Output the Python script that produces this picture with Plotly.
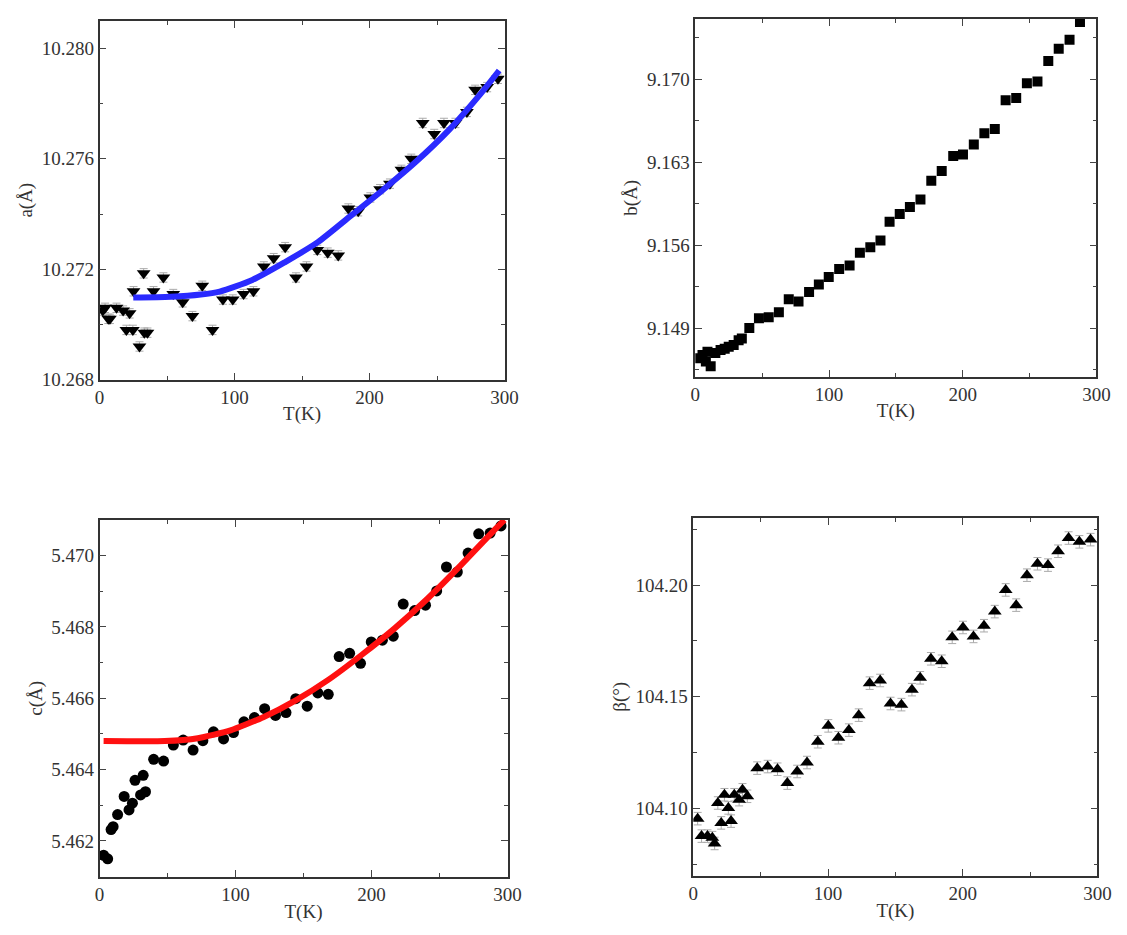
import plotly.graph_objects as go

# ---- panel a ----
T_a = [2.4, 4.1, 6.5, 7.7, 12.6, 17.5, 19.9, 22.3, 24.7, 25.2, 29.6, 32.7, 33.2, 35.5,
       40.0, 47.3, 54.6, 61.6, 68.8, 76.1, 83.7, 91.4, 98.7, 106.7, 114.0, 121.7, 129.0,
       137.5, 145.5, 153.3, 161.3, 169.0, 176.8, 184.3, 191.6, 200.6, 207.8, 215.1, 223.6,
       230.9, 239.4, 247.9, 255.1, 263.6, 272.1, 278.2, 287.1, 295.1]
a_val = [10.2705, 10.2706, 10.2702, 10.2702, 10.2706, 10.2705, 10.2698, 10.2704, 10.2698,
         10.2712, 10.2692, 10.27185, 10.2697, 10.2697,
         10.2712, 10.2717, 10.2711, 10.2708, 10.2703, 10.2714, 10.2698, 10.2709, 10.2709,
         10.2711, 10.2712, 10.2721, 10.2724, 10.2728, 10.2717, 10.2721, 10.2727, 10.2726,
         10.2725, 10.2742, 10.2741, 10.2746, 10.2749, 10.2751, 10.2756, 10.2760, 10.2773,
         10.2769, 10.2773, 10.2773, 10.2777, 10.2785, 10.2786, 10.2789]
a_err = [0.00017] * len(a_val)
T_afit = [25, 52.6, 75, 89, 113.2, 137.5, 161.7, 186, 210.3, 234.5, 258.7, 283, 296]
a_fit = [10.27097, 10.27100, 10.27108, 10.27119, 10.27161, 10.27226, 10.27298, 10.27393,
         10.27489, 10.2759, 10.27704, 10.2784, 10.2792]

# ---- panel b ----
T_b = [1.8, 5.4, 7.9, 9.1, 11.5, 15.0, 18.9, 22.0, 25.0, 28.7, 32.4, 34.8, 40.4, 47.6,
       54.9, 62.5, 69.9, 77.2, 85.1, 92.4, 99.8, 107.6, 115.4, 123.1, 130.9, 138.5, 145.3,
       152.9, 160.5, 168.4, 176.5, 184.3, 192.9, 200.2, 208.3, 216.2, 224.0, 232.1, 240.0,
       248.0, 255.9, 264.0, 271.8, 279.9, 287.7]
b_val = [9.14645, 9.14673, 9.14618, 9.1470, 9.14577, 9.14690, 9.14714, 9.14725, 9.14742,
         9.14756, 9.14797, 9.14811, 9.1490, 9.14983, 9.14991, 9.15033, 9.15143, 9.15124,
         9.15204, 9.15267, 9.15331, 9.15398, 9.15428, 9.15535, 9.15582, 9.15638, 9.15798,
         9.15862, 9.15922, 9.15986, 9.16143, 9.16226, 9.16353, 9.16364, 9.1645, 9.16544,
         9.1658, 9.16823, 9.16843, 9.16967, 9.16981, 9.17155, 9.17257, 9.17334, 9.17484]

# ---- panel c ----
T_c = [3.0, 6.0, 8.5, 10.0, 13.3, 18.1, 21.7, 24.2, 26.1, 30.2, 32.1, 33.8, 39.8, 47.1,
       54.3, 61.5, 68.8, 76.0, 83.8, 91.2, 98.5, 106.2, 113.9, 121.4, 129.4, 137.1, 144.3,
       152.7, 160.5, 168.2, 176.2, 183.9, 191.9, 199.8, 208.0, 216.0, 223.3, 231.7, 239.7,
       247.9, 255.1, 263.1, 271.0, 278.8, 287.2, 295.2]
c_val = [5.4616, 5.4615, 5.46232, 5.4624, 5.46274, 5.46325, 5.46287, 5.46306, 5.4637,
         5.46329, 5.46384, 5.46338, 5.46429, 5.46424, 5.46469, 5.46483, 5.46455, 5.46481,
         5.46506, 5.46486, 5.46504, 5.46534, 5.46546, 5.46571, 5.46552, 5.4656, 5.46599,
         5.46578, 5.46615, 5.46611, 5.46717, 5.46726, 5.46698, 5.46758, 5.46763, 5.46774,
         5.46864, 5.46846, 5.46861, 5.46901, 5.46968, 5.46954, 5.47007, 5.47061, 5.47063,
         5.47083]
T_cfit = [3, 48, 72.2, 96.3, 120.4, 144.6, 168.7, 192.9, 217, 241.1, 265.2, 289.4, 297.8]
c_fit = [5.46480, 5.46480, 5.46488, 5.46510, 5.46547, 5.46595, 5.46653, 5.46722, 5.46796,
         5.46879, 5.46971, 5.47068, 5.4710]

# ---- panel beta ----
T_beta = [3.2, 6.1, 10.5, 14.1, 15.8, 18.2, 20.7, 23.1, 26.0, 28.0, 30.4, 34.0, 36.5, 40.1,
          47.4, 55.2, 62.5, 69.8, 77.1, 84.4, 92.4, 100.2, 107.7, 115.5, 122.8, 130.9, 138.7,
          146.4, 154.5, 162.3, 168.4, 176.4, 184.4, 192.2, 200.2, 208.0, 215.8, 223.8, 231.9,
          239.7, 247.7, 255.5, 263.3, 270.8, 278.6, 286.6, 294.9]
beta_val = [104.0955, 104.0877, 104.0877, 104.0870, 104.0844, 104.1025, 104.0936, 104.1062,
            104.1003, 104.0944, 104.1062, 104.1040, 104.1084, 104.1055, 104.1181, 104.1188,
            104.1176, 104.1114, 104.1166, 104.1206, 104.1299, 104.1370, 104.1317, 104.1351,
            104.1418, 104.1561, 104.1573, 104.1470, 104.1465, 104.1532, 104.1585, 104.1670,
            104.1659, 104.1766, 104.1810, 104.1770, 104.1818, 104.1881, 104.1978, 104.1910,
            104.2044, 104.2095, 104.2089, 104.2151, 104.2210, 104.2193, 104.2203]
beta_err = [0.0028] * len(beta_val)

W, H = 1127, 935
FONT = "Liberation Serif"
fig = go.Figure()

def dom_x(l, r):
    return [l / W, r / W]

def dom_y(t, b):
    return [1 - b / H, 1 - t / H]

panels = [
    dict(n="", xd=(88, 500), yd=(13, 376), yr=[10.268, 10.281], tv=[10.268, 10.272, 10.276, 10.280],
         tt=["10.268", "10.272", "10.276", "10.280"], dt=0.004, title="a(Å)"),
    dict(n="2", xd=(694, 1102), yd=(11, 373), yr=[9.1449, 9.1751], tv=[9.149, 9.156, 9.163, 9.170],
         tt=["9.149", "9.156", "9.163", "9.170"], dt=0.007, title="b(Å)"),
    dict(n="3", xd=(88, 503), yd=(518, 879), yr=[5.461, 5.471], tv=[5.462, 5.464, 5.466, 5.468, 5.470],
         tt=["5.462", "5.464", "5.466", "5.468", "5.470"], dt=0.002, title="c(Å)"),
    dict(n="4", xd=(692, 1103), yd=(516, 878), yr=[104.07, 104.23], tv=[104.10, 104.15, 104.20],
         tt=["104.10", "104.15", "104.20"], dt=0.05, title="β(°)"),
]

layout = dict(width=W, height=H, margin=dict(l=0, r=0, t=0, b=0),
              paper_bgcolor="white", plot_bgcolor="white", showlegend=False,
              font=dict(family=FONT, color="#222"))

FS = 19
for p in panels:
    n = p["n"]
    layout["xaxis" + n] = dict(
        domain=dom_x(*p["xd"]), range=[0, 300], anchor="y" + n,
        tickvals=[0, 100, 200, 300], ticks="inside", ticklen=7, tickwidth=1.2,
        minor=dict(tickvals=[50, 150, 250], ticks="inside", ticklen=4, tickwidth=1),
        showline=True, linecolor="#333", linewidth=1.5, mirror="ticks", showgrid=False,
        zeroline=False, tickfont=dict(family=FONT, size=FS, color="#333"),
        title=dict(text="T(K)", font=dict(family=FONT, size=FS, color="#333"), standoff=0),
    )
    minor_vals = [v + p["dt"] / 2 for v in p["tv"]] + [p["tv"][0] - p["dt"] / 2]
    layout["yaxis" + n] = dict(
        domain=dom_y(*p["yd"]), range=p["yr"], anchor="x" + n,
        tickvals=p["tv"], ticktext=p["tt"], ticks="inside", ticklen=7, tickwidth=1.2,
        minor=dict(tickvals=minor_vals, ticks="inside", ticklen=4, tickwidth=1),
        showline=True, linecolor="#333", linewidth=1.5, mirror="ticks", showgrid=False,
        zeroline=False, tickfont=dict(family=FONT, size=FS, color="#333"),
        title=dict(text=p["title"], font=dict(family=FONT, size=FS, color="#333"), standoff=4),
    )

# panel a
fig.add_trace(go.Scatter(x=T_a, y=a_val, mode="markers", xaxis="x", yaxis="y",
                         marker=dict(symbol="triangle-down", size=12, color="black"),
                         error_y=dict(type="data", array=a_err, color="#aaa", thickness=1, width=4)))
fig.add_trace(go.Scatter(x=T_afit, y=a_fit, mode="lines", xaxis="x", yaxis="y",
                         line=dict(color="#2a2aff", width=6, shape="spline", smoothing=0.7)))
# panel b
fig.add_trace(go.Scatter(x=T_b, y=b_val, mode="markers", xaxis="x2", yaxis="y2",
                         marker=dict(symbol="square", size=10, color="black")))
# panel c
fig.add_trace(go.Scatter(x=T_c, y=c_val, mode="markers", xaxis="x3", yaxis="y3",
                         marker=dict(symbol="circle", size=11, color="black")))
fig.add_trace(go.Scatter(x=T_cfit, y=c_fit, mode="lines", xaxis="x3", yaxis="y3",
                         line=dict(color="#ff1010", width=6, shape="spline", smoothing=0.5)))
# panel beta
fig.add_trace(go.Scatter(x=T_beta, y=beta_val, mode="markers", xaxis="x4", yaxis="y4",
                         marker=dict(symbol="triangle-up", size=12, color="black"),
                         error_y=dict(type="data", array=beta_err, color="#aaa", thickness=1, width=4)))

fig.update_layout(**layout)
fig.write_html("out.html")
